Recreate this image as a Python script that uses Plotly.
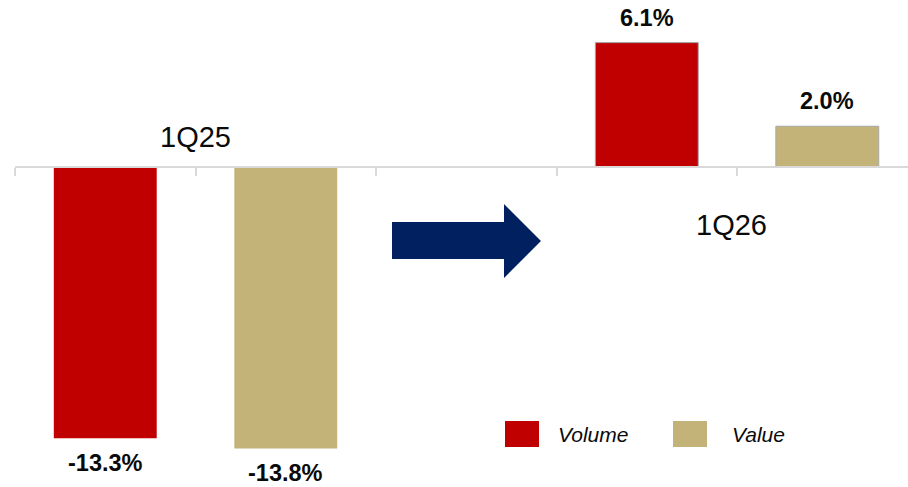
import plotly.graph_objects as go

# Year-on-year change, %
periods = ["1Q25", "1Q26"]
volume_change = [-13.3, 6.1]
value_change = [-13.8, 2.0]
series_names = ["Volume", "Value"]

# slot layout: 1Q25 Volume, 1Q25 Value, (gap with arrow), 1Q26 Volume, 1Q26 Value
volume_slots = [0, 3]
value_slots = [1, 4]

RED = "#C00000"
TAN = "#C3B378"
NAVY = "#002060"
FONT = "Liberation Sans, Arial, sans-serif"

W, H = 908, 487
X_RANGE = [-0.5, 4.447]
Y_RANGE = [-15.69, 8.19]


def px(x):
    return x / W


def py(y):
    return 1 - y / H


fig = go.Figure()
fig.add_trace(go.Bar(
    x=volume_slots, y=volume_change, name=series_names[0], width=0.57,
    marker=dict(color=RED, line=dict(color=["rgba(0,0,0,0)", "#A6A6A6"], width=1)),
    showlegend=False,
))
fig.add_trace(go.Bar(
    x=value_slots, y=value_change, name=series_names[1], width=0.57,
    marker=dict(color=TAN, line=dict(color=["rgba(0,0,0,0)", "#A6A6A6"], width=1)),
    showlegend=False,
))

annotations = []
# value labels beyond each bar end
for xs, ys in ((volume_slots, volume_change), (value_slots, value_change)):
    for x, v in zip(xs, ys):
        annotations.append(dict(
            x=x, y=v, xref="x", yref="y", text=f"{v:.1f}%", showarrow=False,
            font=dict(family=FONT, size=23.5, color="#0A0A0A", weight="bold"),
            yanchor="middle", yshift=25 if v >= 0 else -25,
        ))

# period labels
annotations.append(dict(x=0.5, y=1.45, xref="x", yref="y", text=periods[0], showarrow=False,
                        font=dict(family=FONT, size=29, color="#0A0A0A")))
annotations.append(dict(x=3.47, y=-2.85, xref="x", yref="y", text=periods[1], showarrow=False,
                        font=dict(family=FONT, size=29, color="#0A0A0A")))

shapes = []
# arrow between the two periods
arrow_pts = [(392, 222), (504, 222), (504, 204), (541, 241), (504, 278), (504, 259), (392, 259)]
path = "M " + " L ".join(f"{px(a):.5f},{py(b):.5f}" for a, b in arrow_pts) + " Z"
shapes.append(dict(type="path", xref="paper", yref="paper", path=path,
                   fillcolor=NAVY, line=dict(width=0)))

# legend swatches and names
for (x0, text_x, name, color) in ((505, 556, series_names[0], RED),
                                  (673, 730, series_names[1], TAN)):
    shapes.append(dict(type="rect", xref="paper", yref="paper",
                       x0=px(x0), x1=px(x0 + 34), y0=py(447), y1=py(421),
                       fillcolor=color, line=dict(width=0)))
    annotations.append(dict(x=px(text_x), y=py(434), xref="paper", yref="paper",
                            text=f"<i>{name}</i>", showarrow=False, xanchor="left",
                            yanchor="middle",
                            font=dict(family=FONT, size=21, color="#0A0A0A")))

fig.update_layout(
    width=W, height=H,
    margin=dict(l=0, r=0, t=0, b=0),
    paper_bgcolor="white", plot_bgcolor="white",
    barmode="overlay",
    showlegend=False,
    xaxis=dict(range=X_RANGE, domain=[15 / W, 1], anchor="free", position=(H - 167) / H,
               showline=True, linecolor="#D9D9D9", linewidth=2,
               ticks="outside", ticklen=8, tickwidth=2, tickcolor="#D9D9D9",
               tickvals=[-0.5, 0.5, 1.5, 2.5, 3.5, 4.5], showticklabels=False,
               showgrid=False, zeroline=False, fixedrange=True),
    yaxis=dict(range=Y_RANGE, visible=False, showgrid=False, zeroline=False,
               fixedrange=True),
    shapes=shapes,
    annotations=annotations,
)

fig.write_html("out.html")
